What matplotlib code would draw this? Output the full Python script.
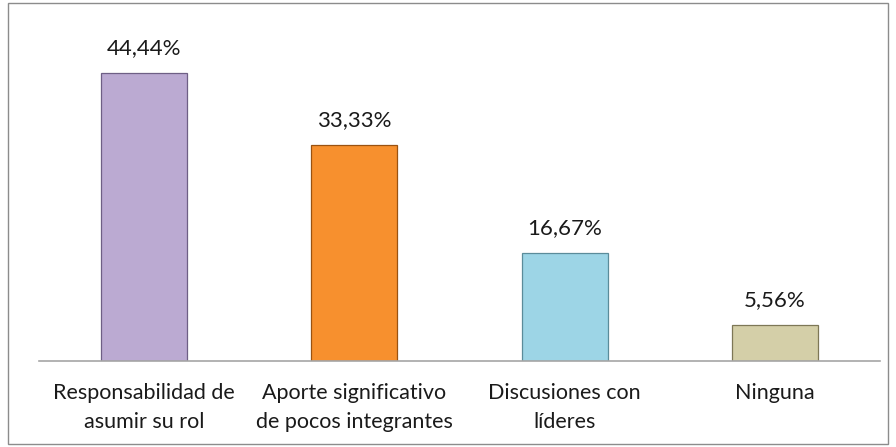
import numpy as np
import matplotlib.pyplot as plt
from matplotlib.patches import Rectangle

# Chart data
categories = ["Responsabilidad de\nasumir su rol",
              "Aporte significativo\nde pocos integrantes",
              "Discusiones con\nlíderes",
              "Ninguna"]
values = [44.44, 33.33, 16.67, 5.56]
value_labels = ["44,44%", "33,33%", "16,67%", "5,56%"]
colors = ["#BBAAD2", "#F7902E", "#9DD5E6", "#D4CFA8"]
edges = ["#6E5F85", "#9A5211", "#5B8C9A", "#7D7756"]

plt.rcParams['font.family'] = ['Lato', 'DejaVu Sans']

fig = plt.figure(figsize=(8.96, 4.47), dpi=100)
# outer chart frame
fig.patches.append(Rectangle((0.009, 0.006), 0.982, 0.988, transform=fig.transFigure,
                             fill=False, edgecolor="#8C8C8C", linewidth=1.0))

ax = fig.add_axes([39 / 896, 1 - 361 / 447, (880 - 39) / 896, (361 - 20) / 447])
x = np.arange(len(categories))
bars = ax.bar(x, values, width=0.41, color=colors, edgecolor=edges, linewidth=0.9)

for xi, v, lab in zip(x, values, value_labels):
    ax.annotate(lab, (xi, v), xytext=(0, 11), textcoords="offset points",
                ha="center", va="bottom", fontsize=16, color="#1A1A1A")

ax.set_xlim(-0.5, len(categories) - 0.5)
ax.set_ylim(0, 341 / 6.48)
ax.set_xticks(x)
ax.set_xticklabels(categories, fontsize=15.5, color="#1A1A1A", linespacing=1.55)
ax.tick_params(axis="x", length=0, pad=16)
ax.set_yticks([])
for s in ["top", "right", "left"]:
    ax.spines[s].set_visible(False)
ax.spines["bottom"].set_color("#A6A6A6")
ax.spines["bottom"].set_linewidth(1.2)

fig.savefig("out.png", dpi=100)
